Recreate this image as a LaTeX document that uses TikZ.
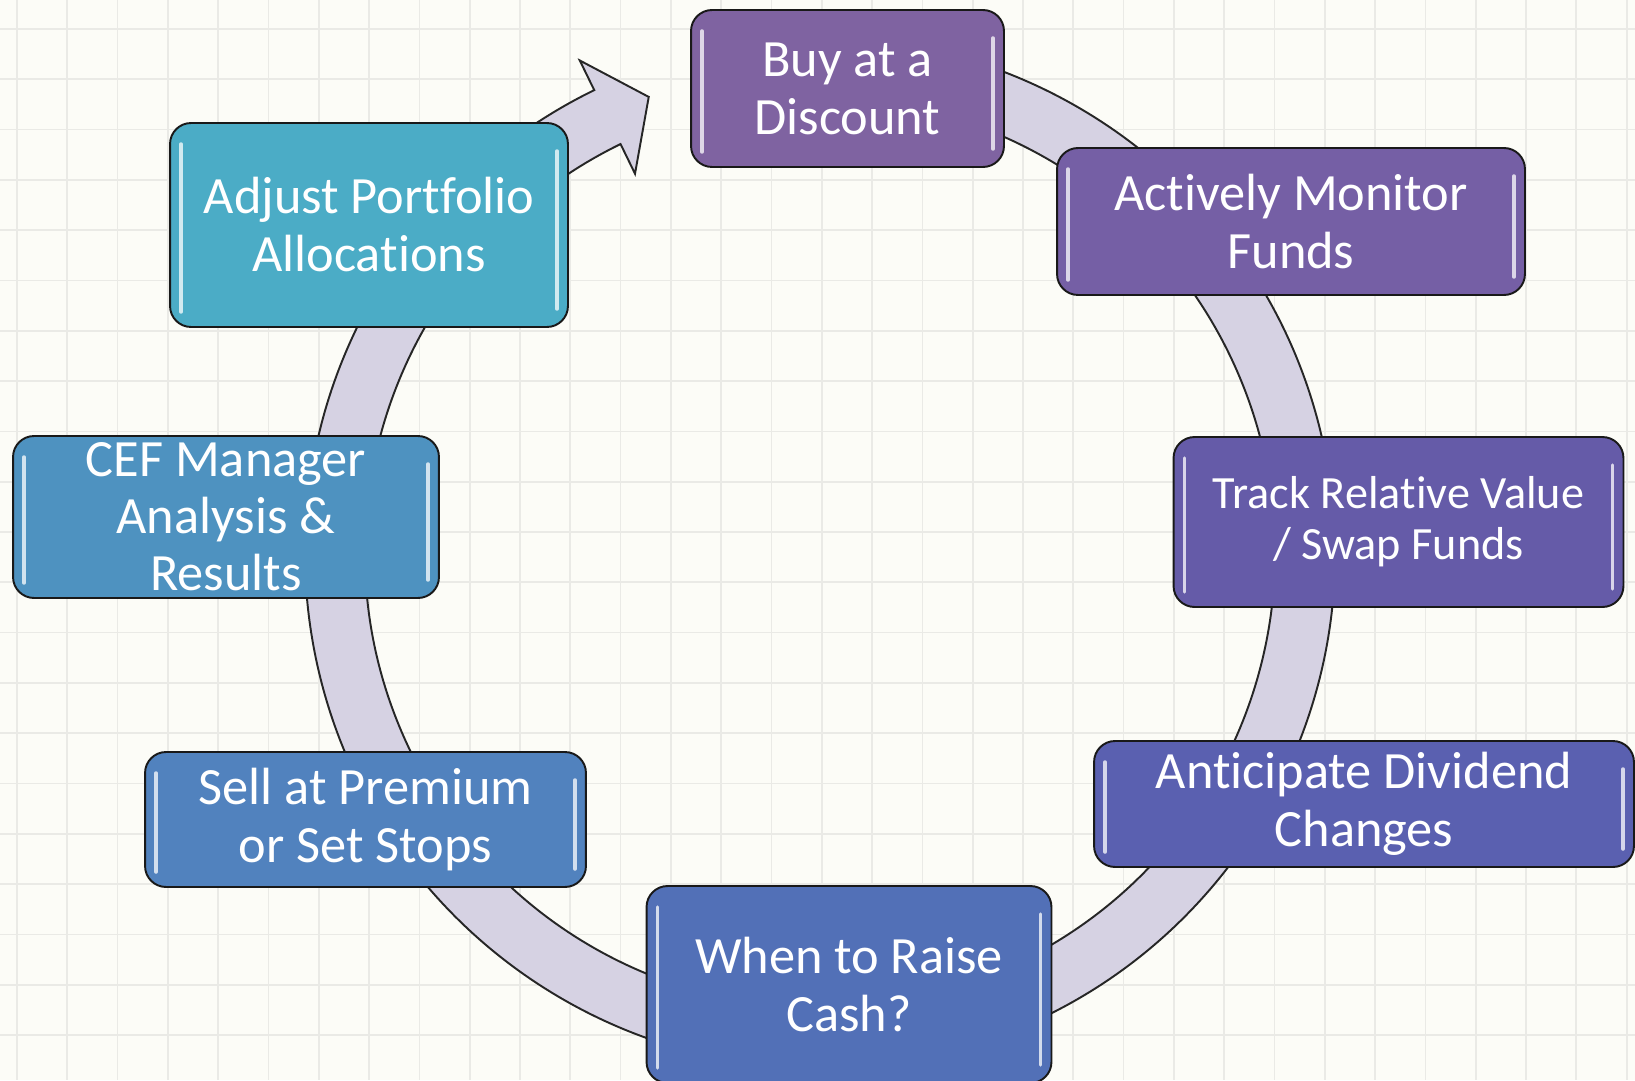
\documentclass[tikz,border=0pt]{standalone}
\usepackage{fontspec}
\setmainfont{Carlito}[Ligatures=NoCommon]
\usetikzlibrary{calc}

\definecolor{paper}{HTML}{FCFCF7}
\definecolor{gridgray}{HTML}{EAEAE6}
\definecolor{ringfill}{HTML}{D6D2E3}
\definecolor{buycol}{HTML}{7F63A1}
\definecolor{monitorcol}{HTML}{755FA5}
\definecolor{trackcol}{HTML}{655BA8}
\definecolor{dividendcol}{HTML}{5A60B0}
\definecolor{cashcol}{HTML}{5270B7}
\definecolor{sellcol}{HTML}{5182BE}
\definecolor{cefcol}{HTML}{4E92C0}
\definecolor{adjustcol}{HTML}{4BACC6}

\tikzset{
    % Background
    grid line/.style={gridgray, line width=1pt},
    %
    % Cycle arrow
    ring/.style={fill=ringfill, draw=black!85, line width=1.1pt},
    %
    % Boxes
    gloss/.style={white, opacity=0.75, line width=2pt, line cap=round},
    step box/.style={rounded corners=0.42cm, draw=black!90, line width=1.1pt,
        fill=#1, text=white, align=center, inner sep=0pt,
        font=\fontsize{29.8}{33}\selectfont,
        path picture={
            \draw[gloss] ($(path picture bounding box.north west)+(0.22cm,-0.42cm)$)
                -- ($(path picture bounding box.south west)+(0.22cm,0.3cm)$);
            \draw[gloss] ($(path picture bounding box.north east)+(-0.22cm,-0.56cm)$)
                -- ($(path picture bounding box.south east)+(-0.22cm,0.36cm)$);
        }}
}

\begin{document}
\begin{tikzpicture}[x=0.02cm, y=0.02cm]
        \useasboundingbox (0,0) rectangle (1635,1080);
        \fill[paper] (0,0) rectangle (1635,1080);
        \foreach \k in {0,...,32}
            \draw[grid line] ({17+50.3*\k},0) -- ++(0,1080);
        \foreach \k in {0,...,21}
            \draw[grid line] (0,{1051-50.3*\k}) -- ++(1635,0);

        % ring with its head, running clockwise
        \coordinate (hub) at (820,527);
        \filldraw[ring] ($(hub)+(100:515)$) arc[start angle=100, end angle=-244, radius=515]
            -- ($(hub)+(116:548)$) -- ($(hub)+(116:485)+(26:46)$)
            -- ($(hub)+(116:422)$) -- ($(hub)+(116:455)$)
            arc[start angle=116, end angle=460, radius=455] -- cycle;

        \node[step box=buycol, minimum width=6.26cm, minimum height=3.14cm] (buy) at (847.5,991.5) {Buy at a\\Discount};
        \node[step box=monitorcol, minimum width=9.36cm, minimum height=2.94cm] (monitor) at (1291,858.5) {Actively Monitor\\Funds};
        \node[step box=trackcol, minimum width=9cm, minimum height=3.4cm, font=\fontsize{26.3}{29}\selectfont] (track) at (1398.5,558) {Track Relative Value\\/ Swap Funds};
        \node[step box=dividendcol, minimum width=10.8cm, minimum height=2.52cm] (dividend) at (1364,276) {Anticipate Dividend\\Changes};
        \node[step box=cashcol, minimum width=8.1cm, minimum height=3.94cm] (cash) at (849,95.5) {When to Raise\\Cash?};
        \node[step box=sellcol, minimum width=8.82cm, minimum height=2.7cm] (sell) at (365.5,260.5) {Sell at Premium\\or Set Stops};
        \node[step box=cefcol, minimum width=8.52cm, minimum height=3.24cm, font=\fontsize{29.8}{32.5}\selectfont] (cef) at (226,563) {CEF Manager\\Analysis \&\\Results};
        \node[step box=adjustcol, minimum width=7.96cm, minimum height=4.08cm] (adjust) at (369,855) {Adjust Portfolio\\Allocations};
\end{tikzpicture}
\end{document}
